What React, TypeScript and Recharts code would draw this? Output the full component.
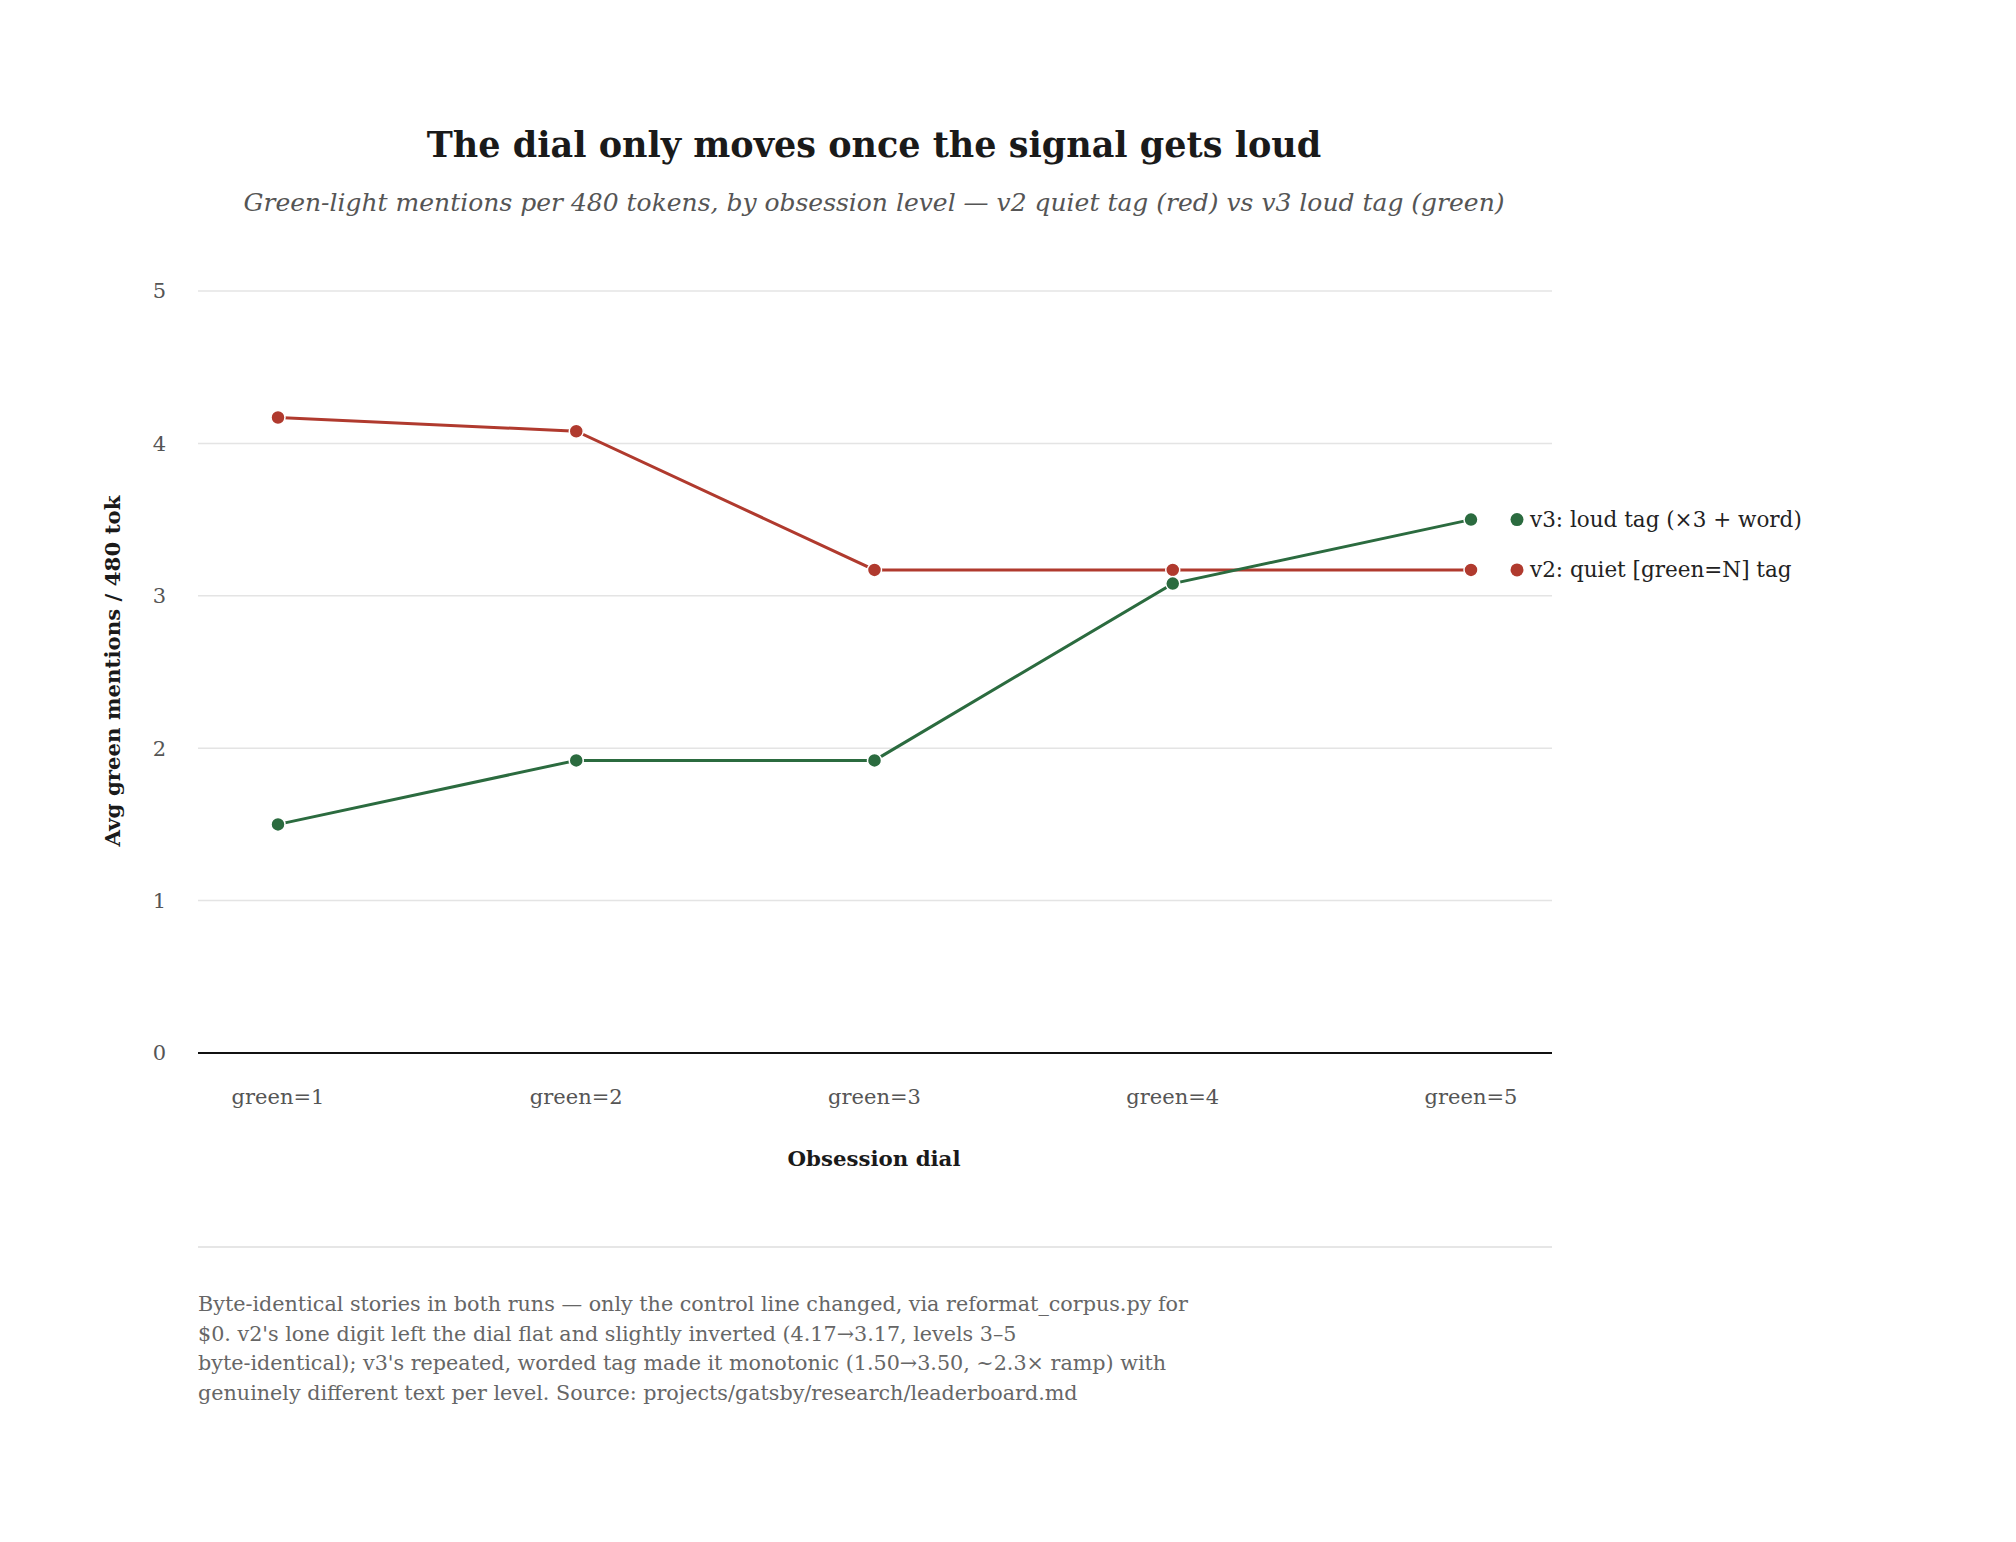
import { LineChart, Line, XAxis, YAxis, CartesianGrid, ReferenceLine, LabelList } from 'recharts'

const levels = ['green=1', 'green=2', 'green=3', 'green=4', 'green=5']
const v2Quiet = [4.17, 4.08, 3.17, 3.17, 3.17]
const v3Loud = [1.5, 1.92, 1.92, 3.08, 3.5]
const yTicks = [0, 1, 2, 3, 4, 5]

const v2Name = 'v2: quiet [green=N] tag'
const v3Name = 'v3: loud tag (×3 + word)'

const RED = '#b03a2e'
const GREEN = '#2b6b3f'
const FONT = '"DejaVu Serif", serif'

const data = levels.map((level, i) => ({ level, v2: v2Quiet[i], v3: v3Loud[i] }))

// end-of-line legend label, only on the last point
function endLabel(name: string, color: string) {
  return (props: any) => {
    const { x, y, index } = props
    if (index !== levels.length - 1) return null
    return (
      <g>
        <circle cx={x + 46} cy={y} r={6.5} fill={color} />
        <text x={x + 59} y={y} dy="0.35em" fontSize={21.5} fill="#222" fontFamily={FONT}>
          {name}
        </text>
      </g>
    )
  }
}

export default function App() {
  return (
    <div style={{ position: 'absolute', left: 0, top: 0, width: 2016, height: 1542, background: '#fff', fontFamily: FONT }}>
      <div style={{ position: 'absolute', left: 0, width: 1748, top: 124, textAlign: 'center', fontSize: 35, fontWeight: 'bold', color: '#1a1a1a' }}>
        The dial only moves once the signal gets loud
      </div>
      <div style={{ position: 'absolute', left: 0, width: 1748, top: 188, textAlign: 'center', fontSize: 25, fontStyle: 'italic', color: '#555' }}>
        Green-light mentions per 480 tokens, by obsession level — v2 quiet tag (red) vs v3 loud tag (green)
      </div>

      <div style={{ position: 'absolute', left: 0, top: 0 }}>
        <LineChart
          width={2016}
          height={1542}
          data={data}
          margin={{ top: 291, right: 464, left: 138, bottom: 0 }}
        >
          <CartesianGrid vertical={false} stroke="#e4e4e4" strokeWidth={1.5} />
          <XAxis
            dataKey="level"
            axisLine={false}
            tickLine={false}
            padding={{ left: 80, right: 81 }}
            height={489}
            tickMargin={30}
            tick={{ fontSize: 21, fill: '#555', fontFamily: FONT }}
          />
          <YAxis
            domain={[0, 5]}
            ticks={yTicks}
            width={60}
            axisLine={false}
            tickLine={false}
            tickMargin={26}
            tick={{ fontSize: 21, fill: '#555', fontFamily: FONT }}
          />
          <ReferenceLine y={0} stroke="#111" strokeWidth={2} />
          <Line
            type="linear"
            dataKey="v2"
            stroke={RED}
            strokeWidth={3}
            dot={{ r: 7, fill: RED, stroke: '#fff', strokeWidth: 1.5 }}
            isAnimationActive={false}
          >
            <LabelList dataKey="v2" content={endLabel(v2Name, RED)} />
          </Line>
          <Line
            type="linear"
            dataKey="v3"
            stroke={GREEN}
            strokeWidth={3}
            dot={{ r: 7, fill: GREEN, stroke: '#fff', strokeWidth: 1.5 }}
            isAnimationActive={false}
          >
            <LabelList dataKey="v3" content={endLabel(v3Name, GREEN)} />
          </Line>
        </LineChart>
      </div>

      <div style={{ position: 'absolute', left: 112, top: 671, transform: 'translate(-50%, -50%) rotate(-90deg)', whiteSpace: 'nowrap', fontSize: 21.3, fontWeight: 'bold', color: '#1a1a1a' }}>
        Avg green mentions / 480 tok
      </div>
      <div style={{ position: 'absolute', left: 0, width: 1748, top: 1146, textAlign: 'center', fontSize: 21.3, fontWeight: 'bold', color: '#1a1a1a' }}>
        Obsession dial
      </div>

      <div style={{ position: 'absolute', left: 198, width: 1354, top: 1246, borderTop: '2px solid #e6e6e6' }} />
      <div style={{ position: 'absolute', left: 198, width: 1000, top: 1290, fontSize: 20.7, lineHeight: '29.5px', color: '#666' }}>
        Byte-identical stories in both runs — only the control line changed, via reformat_corpus.py for $0. v2's lone digit left the dial flat and slightly inverted (4.17→3.17, levels 3–5
        <br />
        byte-identical); v3's repeated, worded tag made it monotonic (1.50→3.50, ~2.3× ramp) with genuinely different text per level. Source: projects/gatsby/research/leaderboard.md
      </div>
    </div>
  )
}
